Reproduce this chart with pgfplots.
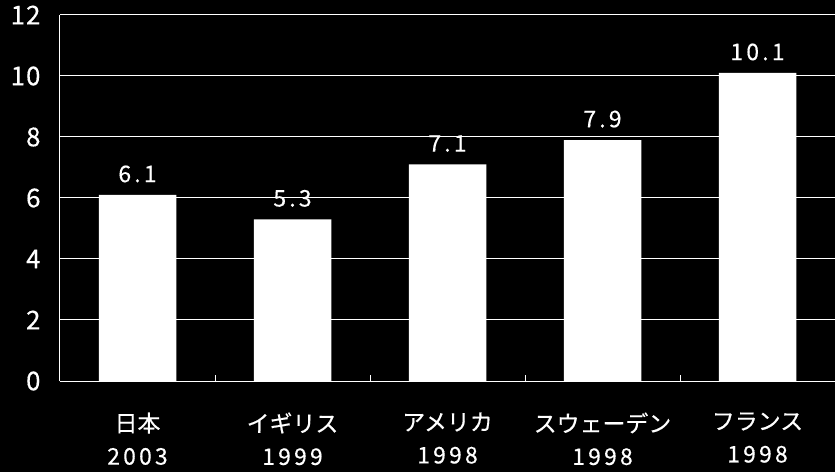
\documentclass[border=0pt]{standalone}
\usepackage{fontspec}
\setmainfont{Noto Sans CJK JP}[FakeBold=0.4]
\newfontfamily\numfont{Noto Sans CJK JP}[LetterSpace=14, FakeBold=0.4]
\newfontfamily\yfont{Noto Sans CJK JP}[LetterSpace=4, FakeBold=0.4]
\usepackage{pgfplots}
\pgfplotsset{compat=1.18}
\begin{document}
\begin{tikzpicture}
\fill[black] (0,0) rectangle (835bp,472bp);
\path[use as bounding box] (0,0) rectangle (835bp,472bp);
\begin{axis}[
  at={(60bp,91bp)}, anchor=south west,
  scale only axis, width=775bp, height=366bp,
  xmin=-0.5, xmax=4.5, ymin=0, ymax=12,
  axis x line*=bottom, axis y line*=left,
  axis line style={white, line width=1bp},
  ytick={0,2,...,12},
  xtick={0,...,4},
  xticklabels={{日本\\{\numfont 2003}},{イギリス\\{\numfont 1999}},{アメリカ\\{\numfont 1998}},{スウェーデン\\{\numfont 1998}},{フランス\\{\numfont 1998}}},
  minor xtick={0.5,1.5,2.5,3.5},
  major tick length=0pt,
  minor tick length=6bp,
  tick align=inside,
  minor tick style={white, line width=1bp},
  ymajorgrids,
  major grid style={white, line width=1bp},
  /pgf/number format/assume math mode=true,
  xticklabel style={align=center, text=white, font=\fontsize{23}{33}\selectfont, yshift=-28bp},
  yticklabel style={text=white, font=\yfont\fontsize{26}{28}\selectfont, xshift=-16bp},
  nodes near coords,
  every node near coord/.append style={text=white, font=\numfont\fontsize{23}{26}\selectfont, yshift=9bp},
  nodes near coords style={/pgf/number format/.cd, fixed, fixed zerofill, precision=1},
]
\addplot[ybar, bar width=0.5, fill=white, draw=none] coordinates {(0,6.1) (1,5.3) (2,7.1) (3,7.9) (4,10.1)};
\end{axis}
\end{tikzpicture}
\end{document}
